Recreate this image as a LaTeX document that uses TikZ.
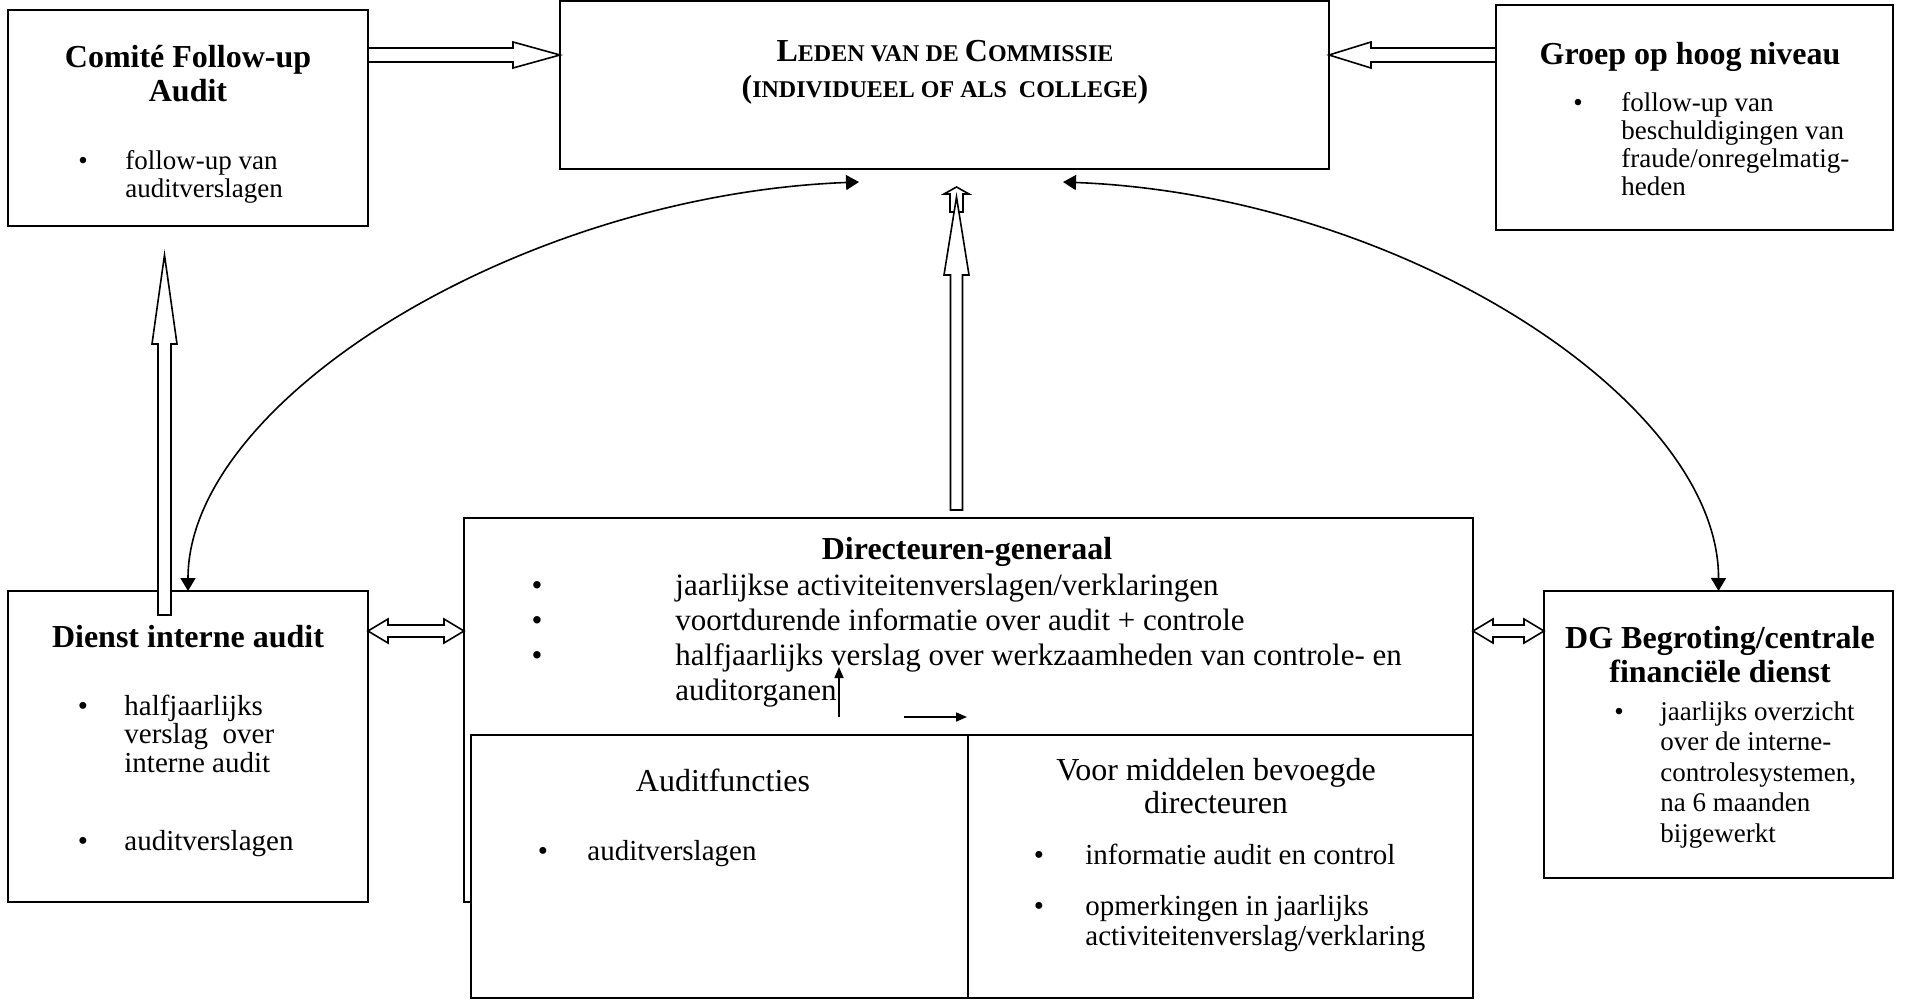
\documentclass[tikz,border=0pt]{standalone}
\usepackage{fontspec}
\setmainfont{Liberation Serif}
\usetikzlibrary{arrows.meta,calc}

\newcommand{\kapgroot}{\fontsize{16}{17}\selectfont}
\newcommand{\kapklein}{\fontsize{12}{17}\selectfont}

% holle blokpijl: van, naar, halve schacht, halve kop, koplengte
\newcommand{\blokpijl}[5]{%
  \path ($(#2)!#5!(#1)$) coordinate (bpk);
  \draw[hol] ($(#1)!#3!90:(#2)$) -- ($(bpk)!#3!90:(#2)$) -- ($(bpk)!#4!90:(#2)$)
    -- (#2) -- ($(bpk)!#4!-90:(#2)$) -- ($(bpk)!#3!-90:(#2)$)
    -- ($(#1)!#3!-90:(#2)$) -- cycle;
}
% holle pijl met twee koppen
\newcommand{\dubbelpijl}[5]{%
  \path ($(#1)!#5!(#2)$) coordinate (dpa) ($(#2)!#5!(#1)$) coordinate (dpb);
  \draw[hol] (#1) -- ($(dpa)!#4!90:(#2)$) -- ($(dpa)!#3!90:(#2)$)
    -- ($(dpb)!#3!90:(#2)$) -- ($(dpb)!#4!90:(#2)$) -- (#2)
    -- ($(dpb)!#4!-90:(#2)$) -- ($(dpb)!#3!-90:(#2)$)
    -- ($(dpa)!#3!-90:(#2)$) -- ($(dpa)!#4!-90:(#2)$) -- cycle;
}

\begin{document}
\begin{tikzpicture}[x=0.5pt, y=-0.5pt,
      vak/.style={draw, line width=1pt, inner sep=0pt, outer sep=0pt, anchor=north west},
      kop/.style={font=\fontsize{16}{17}\selectfont\bfseries, align=center, anchor=base, inner sep=0pt},
      kapitaal/.style={font=\bfseries, anchor=base, inner sep=0pt},
      tabkop/.style={font=\fontsize{16}{16.5}\selectfont, align=center, anchor=base, inner sep=0pt},
      tekst/.style={align=left, anchor=base west, inner sep=0pt},
      punt/.style={anchor=base, inner sep=0pt},
      kleinlet/.style={font=\fontsize{13.5}{14}\selectfont},
      dglet/.style={font=\fontsize{13.5}{15.25}\selectfont},
      middellet/.style={font=\fontsize{14.5}{14.25}\selectfont},
      grootlet/.style={font=\fontsize{15.5}{17.5}\selectfont},
      tablet/.style={font=\fontsize{14.5}{15}\selectfont},
      hol/.style={draw, fill=white, line width=0.8pt, line join=miter},
      boog/.style={{Triangle[length=6.5pt,width=7.5pt]}-{Triangle[length=6.5pt,width=7.5pt]}, line width=0.8pt},
      klein/.style={-{Triangle[length=5.5pt,width=4.5pt]}, line width=0.8pt}]
    \useasboundingbox (0,0) rectangle (1905,1000);

    % vakken
    \node[vak, minimum width=180pt, minimum height=108pt]   (comite) at (8,10)    {};
    \node[vak, minimum width=384.5pt, minimum height=84pt]  (leden)  at (560,1)   {};
    \node[vak, minimum width=198.5pt, minimum height=112.5pt] (groep) at (1496,5) {};
    \node[vak, minimum width=180pt, minimum height=155.5pt] (dienst) at (8,591)   {};
    \node[vak, minimum width=504.5pt, minimum height=192pt] (dirgen) at (464,518) {};
    \node[vak, fill=white, minimum width=248.5pt, minimum height=131.5pt] (audf) at (471,735) {};
    \node[vak, fill=white, minimum width=252.5pt, minimum height=131.5pt] (midd) at (968,735) {};
    \node[vak, minimum width=174.5pt, minimum height=143.5pt] (dgbeg) at (1544,591) {};

    % teksten (bij meer regels: basislijn van de laatste regel)
    \node[kop] (comite-kop) at (188,102) {Comité Follow-up\\Audit};
    \node[punt, kleinlet] (comite-p) at (83,170) {•};
    \node[tekst, kleinlet] (comite-t) at (125,198) {follow-up van\\auditverslagen};

    \node[kapitaal] (leden-r1) at (945,62) {\kapgroot L\kapklein EDEN VAN DE \kapgroot C\kapklein OMMISSIE};
    \node[kapitaal] (leden-r2) at (945,98) {\kapgroot(\kapklein INDIVIDUEEL OF ALS\ \ COLLEGE\kapgroot)};

    \node[kop] (groep-kop) at (1690,65) {Groep op hoog niveau};
    \node[punt, kleinlet] (groep-p) at (1578,112) {•};
    \node[tekst, kleinlet] (groep-t) at (1621,196) {follow-up van\\beschuldigingen van\\fraude/onregelmatig-\\heden};

    \node[kop] (dienst-kop) at (188,647) {Dienst interne audit};
    \node[punt, middellet] (dienst-p1) at (83,715) {•};
    \node[tekst, middellet] (dienst-t1) at (124,772) {halfjaarlijks\\verslag\ \ over\\interne audit};
    \node[punt, middellet] (dienst-p2) at (83,850) {•};
    \node[tekst, middellet] (dienst-t2) at (124,850) {auditverslagen};

    \node[kop] (dirgen-kop) at (967,559) {Directeuren-generaal};
    \node[punt, grootlet] (dirgen-p1) at (537,595) {•};
    \node[punt, grootlet] (dirgen-p2) at (537,630) {•};
    \node[punt, grootlet] (dirgen-p3) at (537,665) {•};
    \node[tekst, grootlet] (dirgen-t1) at (675,595) {jaarlijkse activiteitenverslagen/verklaringen};
    \node[tekst, grootlet] (dirgen-t2) at (675,630) {voortdurende informatie over audit + controle};
    \node[tekst, grootlet] (dirgen-t3) at (675,700) {halfjaarlijks verslag over werkzaamheden van controle- en\\auditorganen};

    \node[tabkop] (audf-kop) at (723,791) {Auditfuncties};
    \node[punt, tablet] (audf-p) at (543,860) {•};
    \node[tekst, tablet] (audf-t) at (587,860) {auditverslagen};

    \node[tabkop] (midd-kop) at (1216,813) {Voor middelen bevoegde\\directeuren};
    \node[punt, tablet] (midd-p1) at (1039,864) {•};
    \node[tekst, tablet] (midd-t1) at (1085,864) {informatie audit en control};
    \node[punt, tablet] (midd-p2) at (1039,915) {•};
    \node[tekst, tablet] (midd-t2) at (1085,945) {opmerkingen in jaarlijks\\activiteitenverslag/verklaring};

    \node[kop] (dgbeg-kop) at (1720,682) {DG Begroting/centrale\\financiële dienst};
    \node[punt, dglet] (dgbeg-p) at (1619,720) {•};
    \node[tekst, dglet] (dgbeg-t) at (1660,842) {jaarlijks overzicht\\over de interne-\\controlesystemen,\\na 6 maanden\\bijgewerkt};

    % holle pijlen
    \blokpijl{comite.east |- 0,55}{leden.west |- 0,55}{3.5pt}{6.5pt}{23.5pt}
    \blokpijl{groep.west |- 0,55}{leden.east |- 0,55}{3.5pt}{6.5pt}{21pt}
    \coordinate (dvoet) at (164.5,615);
    \coordinate (dtop)  at (164.5,255);
    \blokpijl{dvoet}{dtop}{3.25pt}{6.25pt}{44.5pt}
    \coordinate (cvoet)  at (956.5,510);
    \coordinate (ctop)   at (956.5,197);
    \coordinate (cklein) at (956.5,212);
    \coordinate (cpunt)  at (956.5,187);
    \blokpijl{cklein}{cpunt}{3.25pt}{6.25pt}{3.5pt}
    \blokpijl{cvoet}{ctop}{3pt}{6.25pt}{39pt}
    \dubbelpijl{dienst.east |- 0,631}{dirgen.west |- 0,631}{3pt}{6pt}{10pt}
    \dubbelpijl{dirgen.east |- 0,631}{dgbeg.west |- 0,631}{3pt}{6pt}{10pt}

    % gebogen pijlen
    \coordinate (lboog) at (859,182);
    \coordinate (rboog) at (1063,182);
    \draw[boog] (lboog) .. controls (520,195) and (188,400) .. (dienst.north);
    \draw[boog] (rboog) .. controls (1400,195) and (1719,400) .. (dgbeg.north);

    % kleine pijlen
    \coordinate (pv1) at (839,717);
    \coordinate (pv2) at (839,667);
    \coordinate (ph1) at (904,717);
    \coordinate (ph2) at (967,717);
    \draw[klein] (pv1) -- (pv2);
    \draw[klein] (ph1) -- (ph2);
  \end{tikzpicture}
\end{document}
